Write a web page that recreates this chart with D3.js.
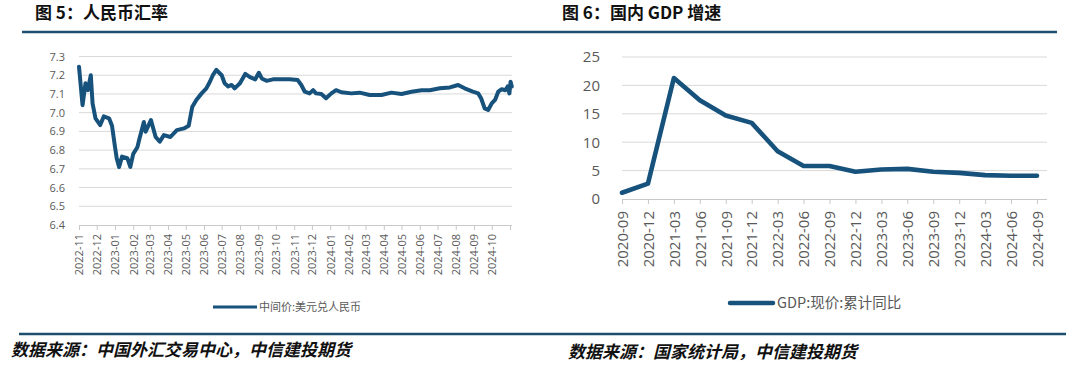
<!DOCTYPE html>
<html><head><meta charset="utf-8">
<script src="https://cdn.jsdelivr.net/npm/d3@7"></script>
<style>
html,body{margin:0;padding:0;background:#fff;}
svg{display:block;}
text{font-family:"Open Sans","Noto Sans CJK SC",sans-serif;}
.cjk{font-family:"Noto Sans CJK SC","Noto Sans",sans-serif;}
</style></head><body>
<svg id="c" width="1080" height="366"></svg>
<script>
// ---- Chart 5: USD/CNY central parity ----
const fxDates = ["2022-11-01","2022-11-07","2022-11-12","2022-11-16","2022-11-21","2022-11-24","2022-11-29","2022-12-07","2022-12-13","2022-12-22","2022-12-27","2023-01-01","2023-01-04","2023-01-08","2023-01-13","2023-01-22","2023-01-27","2023-02-01","2023-02-08","2023-02-11","2023-02-19","2023-02-22","2023-03-03","2023-03-11","2023-03-18","2023-03-25","2023-04-05","2023-04-16","2023-04-28","2023-05-06","2023-05-12","2023-05-19","2023-05-28","2023-06-05","2023-06-11","2023-06-16","2023-06-22","2023-07-01","2023-07-06","2023-07-12","2023-07-18","2023-07-23","2023-08-01","2023-08-10","2023-08-18","2023-08-27","2023-09-02","2023-09-07","2023-09-15","2023-09-26","2023-10-24","2023-11-07","2023-11-13","2023-11-19","2023-11-27","2023-12-03","2023-12-08","2023-12-17","2023-12-25","2024-01-03","2024-01-11","2024-01-20","2024-02-06","2024-02-20","2024-03-08","2024-03-28","2024-04-14","2024-05-01","2024-05-18","2024-06-04","2024-06-18","2024-07-05","2024-07-22","2024-08-05","2024-08-16","2024-08-30","2024-09-08","2024-09-13","2024-09-19","2024-09-25","2024-10-01","2024-10-07","2024-10-12","2024-10-18","2024-10-24","2024-10-28","2024-10-31","2024-11-02","2024-11-04"];
const fxValues = [7.245,7.04,7.157,7.12,7.20,7.05,6.97,6.934,6.98,6.97,6.93,6.818,6.756,6.71,6.765,6.757,6.71,6.78,6.815,6.854,6.95,6.898,6.96,6.87,6.845,6.88,6.87,6.907,6.916,6.93,7.03,7.068,7.103,7.13,7.165,7.20,7.228,7.20,7.157,7.14,7.148,7.13,7.157,7.207,7.19,7.178,7.213,7.183,7.17,7.178,7.178,7.174,7.148,7.112,7.103,7.12,7.103,7.10,7.077,7.103,7.12,7.109,7.103,7.107,7.094,7.094,7.107,7.10,7.112,7.12,7.12,7.13,7.135,7.148,7.13,7.112,7.103,7.077,7.023,7.014,7.05,7.07,7.112,7.125,7.12,7.14,7.103,7.165,7.14];
const fxYTicks = [6.4,6.5,6.6,6.7,6.8,6.9,7.0,7.1,7.2,7.3];
const fxXTickMonths = ["2022-11","2022-12","2023-01","2023-02","2023-03","2023-04","2023-05","2023-06","2023-07","2023-08","2023-09","2023-10","2023-11","2023-12","2024-01","2024-02","2024-03","2024-04","2024-05","2024-06","2024-07","2024-08","2024-09","2024-10","2024-11"];
const fxLegend = "中间价:美元兑人民币";

// ---- Chart 6: GDP growth ----
const gdpQuarters = ["2020-09","2020-12","2021-03","2021-06","2021-09","2021-12","2022-03","2022-06","2022-09","2022-12","2023-03","2023-06","2023-09","2023-12","2024-03","2024-06","2024-09"];
const gdpValues = [1.1,2.7,21.3,17.4,14.7,13.4,8.4,5.8,5.8,4.8,5.2,5.3,4.8,4.6,4.2,4.1,4.1];
const gdpYTicks = [0,5,10,15,20,25];
const gdpLegend = "GDP:现价:累计同比";

const titles = ["图 5：人民币汇率","图 6：国内 GDP 增速"];
const sources = ["数据来源：中国外汇交易中心，中信建投期货","数据来源：国家统计局，中信建投期货"];

const LINE = "#17527d", RULE = "#1d4e6d", GRID = "#d9d9d9", AX = "#c8c8c8", TXT = "#595959";
const svg = d3.select("#c");
const parse = d3.timeParse("%Y-%m-%d");
const parseM = d3.timeParse("%Y-%m");

// rules
svg.append("line").attr("x1",22).attr("x2",1057).attr("y1",32).attr("y2",32).attr("stroke",RULE).attr("stroke-width",2.6);
svg.append("line").attr("x1",19).attr("x2",1066).attr("y1",334).attr("y2",334).attr("stroke",RULE).attr("stroke-width",2.6);

// titles
svg.append("text").attr("class","cjk").attr("x",35).attr("y",19).attr("font-size",17).attr("font-weight","bold").attr("fill","#111").text(titles[0]);
svg.append("text").attr("class","cjk").attr("x",562).attr("y",19).attr("font-size",17).attr("font-weight","bold").attr("fill","#111").text(titles[1]);
// sources
svg.append("text").attr("class","cjk").attr("x",11).attr("y",356).attr("font-size",17).attr("font-weight","bold").attr("font-style","italic").attr("fill","#111").text(sources[0]);
svg.append("text").attr("class","cjk").attr("x",568).attr("y",358).attr("font-size",17).attr("font-weight","bold").attr("font-style","italic").attr("fill","#111").text(sources[1]);

// ===== Chart 5 =====
{
  const x = d3.scaleTime().domain([parseM("2022-11"), parseM("2024-11")]).range([79,510]);
  const y = d3.scaleLinear().domain([6.4,7.3]).range([225,56.5]);
  const g = svg.append("g");
  g.selectAll(".gl").data(fxYTicks.filter(d=>d>6.45)).enter().append("line")
    .attr("x1",79).attr("x2",512).attr("y1",d=>y(d)).attr("y2",d=>y(d)).attr("stroke",GRID).attr("stroke-width",1);
  const ya = d3.axisLeft(y).tickValues(fxYTicks).tickFormat(d3.format(".1f")).tickSize(0).tickPadding(0);
  const yg = g.append("g").attr("transform","translate(65,0)").call(ya);
  yg.select(".domain").remove();
  yg.selectAll("text").attr("font-size",11).attr("fill",TXT).attr("font-family","Open Sans");
  const xa = d3.axisBottom(x).tickValues(fxXTickMonths.map(parseM)).tickSize(5).tickFormat(d3.timeFormat("%Y-%m"));
  const xg = g.append("g").attr("transform","translate(0,225)").call(xa);
  xg.select(".domain").attr("stroke",AX).attr("d","M79,0.5H512");
  xg.selectAll(".tick line").attr("stroke",AX);
  xg.selectAll(".tick text").attr("font-size",11).attr("fill",TXT).attr("font-family","Open Sans")
    .attr("text-anchor","end").attr("transform","translate(0,9) rotate(-90)").attr("x",0).attr("y",0).attr("dy","0.35em")
    .style("display",(d,i)=> i===fxXTickMonths.length-1 ? "none" : null);
  const data = fxDates.map((d,i)=>({d:parse(d),v:fxValues[i]}));
  g.append("path").datum(data).attr("fill","none").attr("stroke",LINE).attr("stroke-width",4)
    .attr("stroke-linejoin","round").attr("stroke-linecap","round")
    .attr("d",d3.line().x(d=>x(d.d)).y(d=>y(d.v)));
  g.append("line").attr("x1",213).attr("x2",257).attr("y1",307).attr("y2",307).attr("stroke",LINE).attr("stroke-width",3);
  g.append("text").attr("class","cjk").attr("x",259).attr("y",311).attr("font-size",11).attr("fill",TXT).text(fxLegend);
}

// ===== Chart 6 =====
{
  const x = d3.scalePoint().domain(gdpQuarters).range([622,1037]);
  const y = d3.scaleLinear().domain([0,25]).range([199,57]);
  const g = svg.append("g");
  g.selectAll(".gl").data(gdpYTicks.filter(d=>d>0)).enter().append("line")
    .attr("x1",622).attr("x2",1047).attr("y1",d=>y(d)).attr("y2",d=>y(d)).attr("stroke",GRID).attr("stroke-width",1);
  const ya = d3.axisLeft(y).tickValues(gdpYTicks).tickSize(0).tickPadding(0);
  const yg = g.append("g").attr("transform","translate(600,0)").call(ya);
  yg.select(".domain").remove();
  yg.selectAll("text").attr("font-size",15).attr("fill",TXT).attr("font-family","Open Sans");
  const xa = d3.axisBottom(x).tickSize(5);
  const xg = g.append("g").attr("transform","translate(0,199)").call(xa);
  xg.select(".domain").attr("stroke",AX).attr("d","M622,0.5H1047");
  xg.selectAll(".tick line").attr("stroke",AX);
  xg.selectAll(".tick text").attr("font-size",15).attr("fill",TXT).attr("font-family","Open Sans")
    .attr("text-anchor","end").attr("transform","translate(0,12) rotate(-90)").attr("x",0).attr("y",0).attr("dy","0.35em");
  g.append("path").datum(gdpValues).attr("fill","none").attr("stroke",LINE).attr("stroke-width",4.6)
    .attr("stroke-linejoin","round").attr("stroke-linecap","round")
    .attr("d",d3.line().x((d,i)=>x(gdpQuarters[i])).y(d=>y(d)));
  g.append("line").attr("x1",730).attr("x2",773).attr("y1",303).attr("y2",303).attr("stroke",LINE).attr("stroke-width",4.5).attr("stroke-linecap","round");
  g.append("text").attr("class","cjk").attr("x",777).attr("y",308).attr("font-size",14.5).attr("fill",TXT).text(gdpLegend);
}
</script></body></html>
